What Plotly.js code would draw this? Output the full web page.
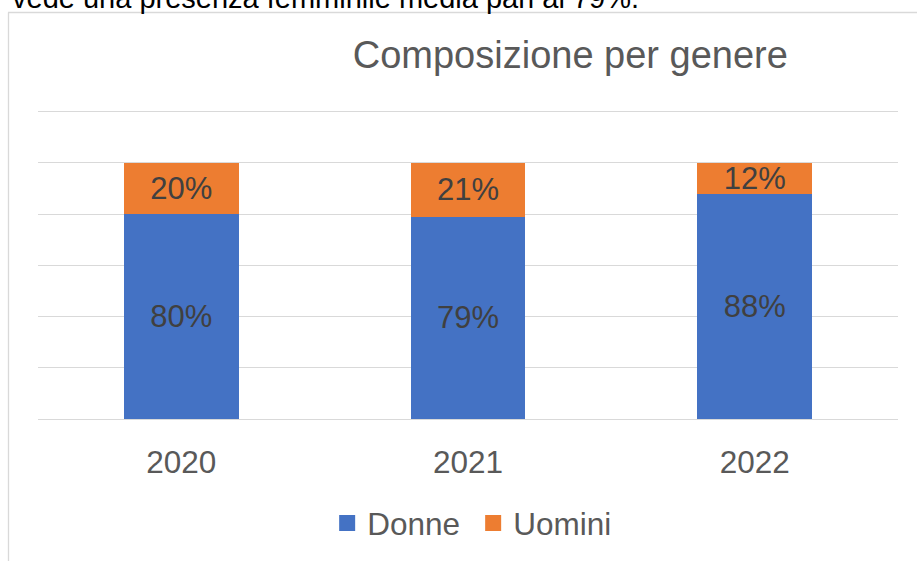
<!DOCTYPE html>
<html>
<head>
<meta charset="utf-8">
<script src="https://cdn.plot.ly/plotly-3.0.1.min.js"></script>
<style>
html,body{margin:0;padding:0;background:#fff;}
#chart{width:917px;height:561px;}
</style>
</head>
<body>
<div id="chart"></div>
<script>
const years = ['2020', '2021', '2022'];
const donne = [0.80, 0.79, 0.88];
const uomini = [0.20, 0.21, 0.12];
const seriesNames = ['Donne', 'Uomini'];
const seriesColors = ['#4472C4', '#ED7D31'];
const chartTitle = 'Composizione per genere';
const introText = 'vede una presenza femminile media pari al 79%.';

const FONT = 'Liberation Sans, Arial, sans-serif';

function barTrace(name, values, color) {
  return {
    type: 'bar',
    name: name,
    x: years,
    y: values,
    marker: {color: color, line: {width: 0}},
    texttemplate: '%{y:.0%}',
    textposition: 'inside',
    insidetextanchor: 'middle',
    constraintext: 'none',
    textfont: {family: FONT, size: 31, color: '#404040'},
    showlegend: false,
    hoverinfo: 'x+y+name'
  };
}

function legendTrace(name, color) {
  return {
    type: 'scatter',
    mode: 'markers',
    name: name,
    x: [null],
    y: [null],
    marker: {symbol: 'square', size: 17, color: color},
    showlegend: true,
    hoverinfo: 'skip'
  };
}

const data = [
  barTrace(seriesNames[0], donne, seriesColors[0]),
  barTrace(seriesNames[1], uomini, seriesColors[1]),
  legendTrace(seriesNames[0], seriesColors[0]),
  legendTrace(seriesNames[1], seriesColors[1])
];

// plot area: 1.0 -> y=163, 0 -> y=419 (256 px per unit); top at 1.2109 -> y=109
const PH = 310;
const layout = {
  width: 917,
  height: 561,
  margin: {l: 38, r: 19, t: 109, b: 142},
  paper_bgcolor: '#ffffff',
  plot_bgcolor: '#ffffff',
  barmode: 'stack',
  bargap: 0.6,
  font: {family: FONT, color: '#595959'},
  title: {
    text: chartTitle,
    font: {family: FONT, size: 38, color: '#595959'},
    xref: 'paper', x: 0.619, xanchor: 'center',
    yref: 'container', y: 0.902, yanchor: 'middle'
  },
  xaxis: {
    type: 'category',
    showgrid: false,
    showline: true,
    linecolor: '#d9d9d9',
    linewidth: 1.3,
    ticks: '',
    ticklabelstandoff: 15,
    tickfont: {family: FONT, size: 31.5, color: '#595959'},
    fixedrange: true
  },
  yaxis: {
    range: [0, 1.2109],
    dtick: 0.2,
    tick0: 0,
    showgrid: true,
    gridcolor: '#d9d9d9',
    gridwidth: 1.3,
    showticklabels: false,
    ticks: '',
    zeroline: false,
    fixedrange: true
  },
  legend: {
    orientation: 'h',
    traceorder: 'normal',
    xref: 'paper', x: 0.506, xanchor: 'center',
    yref: 'container', y: 1 - 523 / 561, yanchor: 'middle',
    font: {family: FONT, size: 31.5, color: '#595959'},
    entrywidth: 101,
    itemclick: false,
    itemdoubleclick: false
  },
  shapes: [
    {type: 'line', xref: 'paper', yref: 'paper',
     x0: -30 / 860, x1: 1.03, y0: (419 - 12.5) / PH, y1: (419 - 12.5) / PH,
     line: {color: '#d9d9d9', width: 1.3}, layer: 'below'},
    {type: 'line', xref: 'paper', yref: 'paper',
     x0: -29.5 / 860, x1: -29.5 / 860, y0: -0.5, y1: (419 - 12.5) / PH,
     line: {color: '#d9d9d9', width: 1.3}, layer: 'below'}
  ],
  annotations: [
    {text: introText, xref: 'paper', yref: 'paper', x: -28 / 860, xanchor: 'left',
     y: (419 + 2) / PH, yanchor: 'middle', showarrow: false,
     font: {family: FONT, size: 29, color: '#000000'}}
  ]
};

Plotly.newPlot('chart', data, layout, {displayModeBar: false, staticPlot: false});
</script>
</body>
</html>
